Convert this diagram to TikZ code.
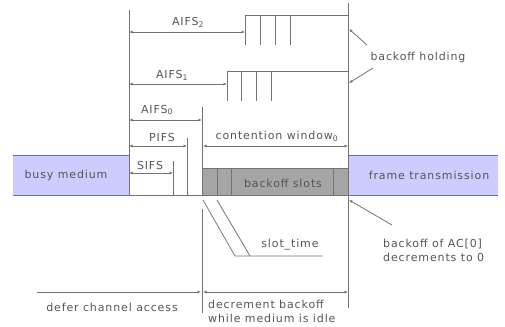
\documentclass[tikz,border=0pt]{standalone}
\usepackage{fontspec}
\setmainfont{DejaVu Sans}[LetterSpace=8]
\usetikzlibrary{arrows.meta}
\definecolor{mediumc}{RGB}{204,204,255}
\definecolor{slotc}{RGB}{165,165,165}
\definecolor{inkc}{RGB}{85,85,85}
\definecolor{wirec}{RGB}{115,115,115}
\begin{document}
\begin{tikzpicture}[x=1pt,y=-1pt,
  >={Latex[length=3.5pt,width=3pt]},
  wire/.style={draw=wirec, line width=0.8pt},
  txt/.style={text=inkc, inner sep=0pt, font=\fontsize{11}{14}\selectfont},
  multi/.style={txt, align=left, anchor=west}]
\useasboundingbox (0,0) rectangle (505,326);

% busy medium and frame transmission blocks
\fill[mediumc] (13,155) rectangle (129,195);
\fill[mediumc] (348,155) rectangle (498,195);
\draw[wire] (13,155) -- (129,155);
\draw[wire] (348,155) -- (498,155);
\node[txt] (busy) at (66,175) {busy medium};
\node[txt] (frame) at (429,175) {frame transmission};

% backoff slots
\fill[slotc] (203,168) rectangle (348,195);
\draw[wire] (203,168) -- (348,168);
\foreach \x in {217,231,333} \draw[wire] (\x,168) -- (\x,195);
\node[txt] (slots) at (283,183) {backoff slots};

% time axis
\coordinate (axL) at (13,195);
\coordinate (axR) at (498,195);
\draw[wire] (axL) -- (axR);

% reference instants
\coordinate (t0top) at (129,10);
\coordinate (t0bot) at (129,195);
\coordinate (txtop) at (348,3);
\coordinate (txbot) at (348,308);
\draw[wire] (t0top) -- (t0bot);
\draw[wire] (txtop) -- (txbot);

% AIFS[2] with its backoff slots
\coordinate (a2s) at (129,32);
\coordinate (a2e) at (245,32);
\draw[wire,<->] (a2s) -- (a2e);
\node[txt] (aifs2) at (188,22) {AIFS\textsubscript{2}};
\draw[wire] (245,45) -- (245,15) -- (348,15);
\foreach \x in {260,275,290} \draw[wire] (\x,15) -- (\x,45);

% AIFS[1] with its backoff slots
\coordinate (a1s) at (129,84);
\coordinate (a1e) at (227,84);
\draw[wire,<->] (a1s) -- (a1e);
\node[txt] (aifs1) at (172,75) {AIFS\textsubscript{1}};
\draw[wire] (227,101) -- (227,71) -- (348,71);
\foreach \x in {241,256,271} \draw[wire] (\x,71) -- (\x,101);

% AIFS[0], PIFS, SIFS
\coordinate (a0s) at (129,120);
\coordinate (a0e) at (202,120);
\draw[wire,<->] (a0s) -- (a0e);
\node[txt] (aifs0) at (157,110) {AIFS\textsubscript{0}};
\draw[wire] (202,107) -- (202,195);

\coordinate (ps) at (129,146);
\coordinate (pe) at (187,146);
\draw[wire,<->] (ps) -- (pe);
\node[txt] (pifs) at (162,137) {PIFS};
\draw[wire] (187,138) -- (187,195);

\coordinate (ss) at (129,173);
\coordinate (se) at (173,173);
\draw[wire,<->] (ss) -- (se);
\node[txt] (sifs) at (150,165) {SIFS};
\draw[wire] (173,161) -- (173,195);

% contention window
\coordinate (cws) at (203,146);
\coordinate (cwe) at (348,146);
\draw[wire,<->] (cws) -- (cwe);
\node[txt] (cw) at (277,136) {contention window\textsubscript{0}};

% slot time callout
\draw[wire] (203,200) -- (235,256) -- (323,256);
\draw[wire] (217,200) -- (250,256);
\node[txt] (slottime) at (290,245) {slot\_time};

% backoff holding callout
\node[txt] (hold) at (418,57) {backoff holding};
\coordinate (h2) at (349,29);
\coordinate (h1) at (349,83);
\draw[wire,->] (367,45) -- (h2);
\draw[wire,->] (373,68) -- (h1);

% backoff of AC[0] callout
\node[multi] (ac0) at (383,250) {backoff of AC[0]\\decrements to 0};
\coordinate (acpt) at (349,200);
\draw[wire,->] (392,225) -- (acpt);

% defer / decrement spans
\coordinate (spl) at (202,209);
\coordinate (spb) at (202,313);
\draw[wire] (spl) -- (spb);
\coordinate (dfs) at (37,292);
\coordinate (dfe) at (201,292);
\coordinate (dcs) at (203,292);
\coordinate (dce) at (348,292);
\draw[wire,->] (dfs) -- (dfe);
\draw[wire,<->] (dcs) -- (dce);
\node[txt] (defer) at (112,307) {defer channel access};
\node[multi] (decr) at (208,311) {decrement backoff\\while medium is idle};
\end{tikzpicture}
\end{document}
